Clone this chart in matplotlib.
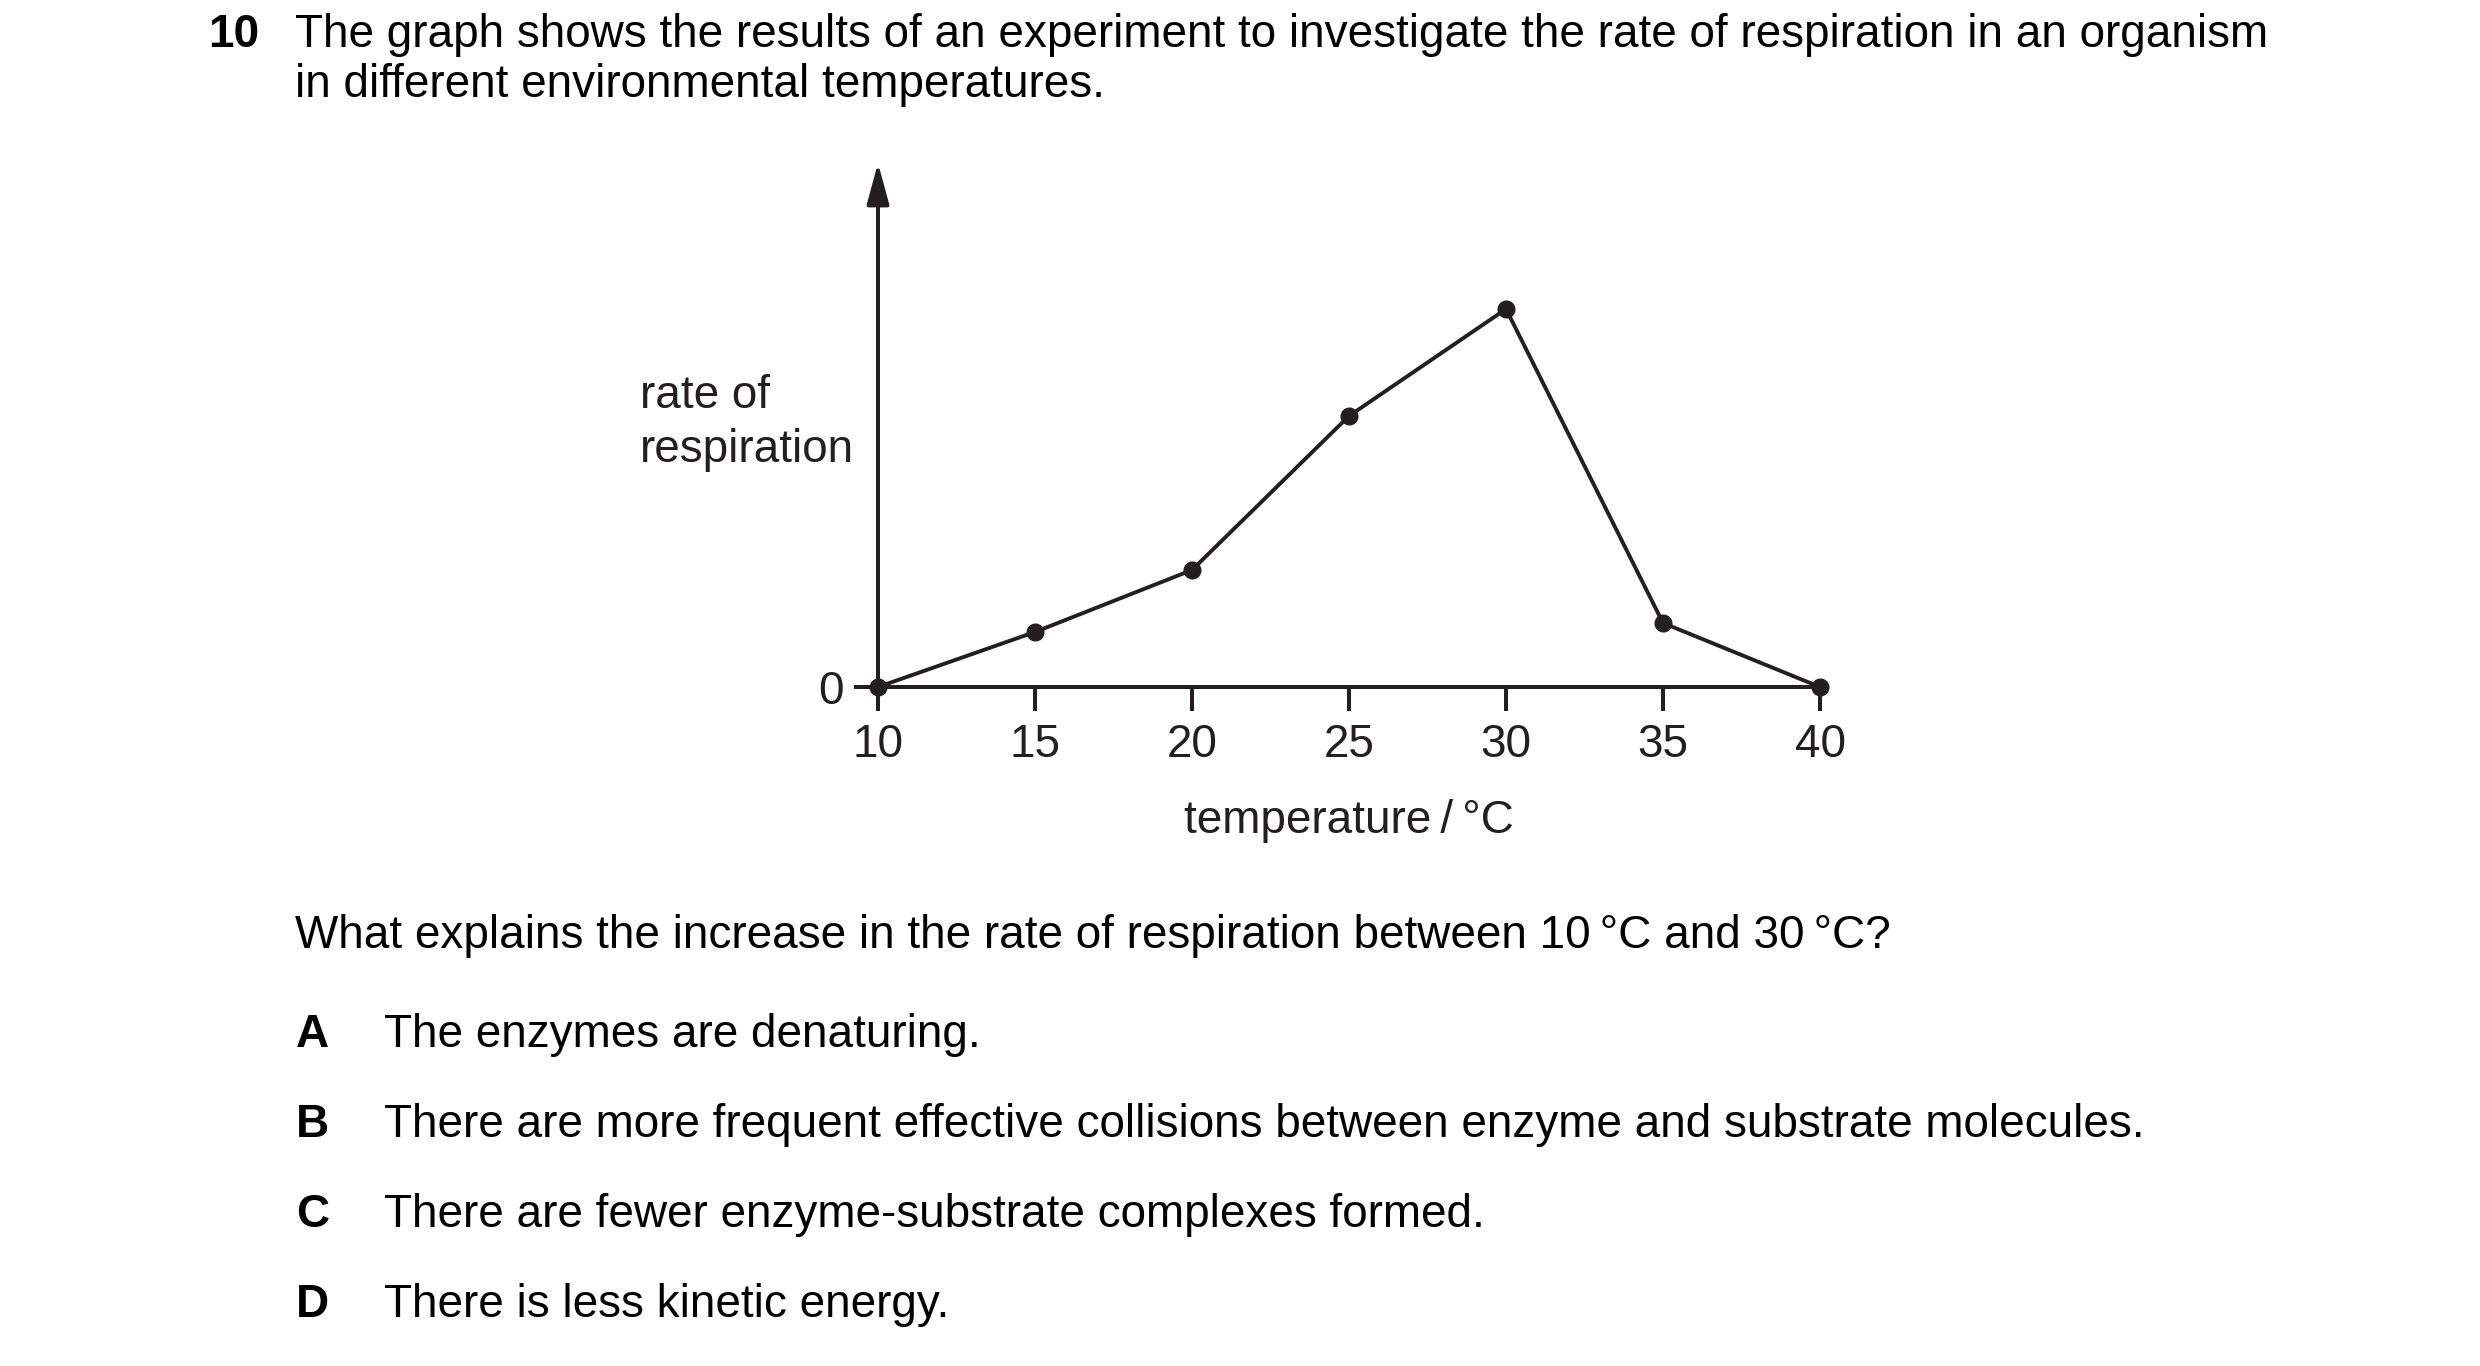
import matplotlib
matplotlib.use("Agg")
import matplotlib.pyplot as plt

plt.rcParams['font.family'] = ['Liberation Sans', 'DejaVu Sans']

# data (rate in arbitrary units)
temperature = [10, 15, 20, 25, 30, 35, 40]
rate = [0, 0.55, 1.17, 2.71, 3.78, 0.64, 0]
x_ticks = [10, 15, 20, 25, 30, 35, 40]
y_top = 5.24

question = "The graph shows the results of an experiment to investigate the rate of respiration in an organism"
question2 = "in different environmental temperatures."
prompt = "What explains the increase in the rate of respiration between 10\u2009°C and 30\u2009°C?"
letters = ["A", "B", "C", "D"]
options = ["The enzymes are denaturing.",
           "There are more frequent effective collisions between enzyme and substrate molecules.",
           "There are fewer enzyme-substrate complexes formed.",
           "There is less kinetic energy."]

W, H = 2480, 1366
fs = 33
ink = '#231f20'

fig = plt.figure(figsize=(W / 100, H / 100), dpi=100)
fig.patch.set_facecolor('white')

def px(x, y):
    return x / W, 1 - y / H

# question text
fig.text(*px(208, 47), "10", fontsize=fs, fontweight='bold', va='baseline', color='black')
fig.text(*px(295, 47), question, fontsize=fs, va='baseline', color='black')
fig.text(*px(295, 97), question2, fontsize=fs, va='baseline', color='black')
fig.text(*px(295, 948), prompt, fontsize=fs, va='baseline', color='black')
for i, (l, t) in enumerate(zip(letters, options)):
    yb = 1047 + i * 90
    fig.text(*px(296, yb), l, fontsize=fs, fontweight='bold', va='baseline', color='black')
    fig.text(*px(384, yb), t, fontsize=fs, va='baseline', color='black')

# graph
ax = fig.add_axes([878 / W, 1 - 687 / H, (1820 - 878) / W, 524 / H])
ax.plot(temperature, rate, color=ink, lw=2.8, marker='o', ms=12, clip_on=False, zorder=5)
ax.set_xlim(10, 40)
ax.set_ylim(0, y_top)
for s in ['top', 'right', 'left']:
    ax.spines[s].set_visible(False)
ax.spines['bottom'].set_linewidth(2.9)
ax.spines['bottom'].set_color(ink)
ax.annotate('', xy=(10, y_top), xytext=(10, 0), xycoords='data',
            arrowprops=dict(arrowstyle='-|>,head_length=25,head_width=6.8',
                            mutation_scale=1, lw=2.9, color=ink,
                            shrinkA=0, shrinkB=0), annotation_clip=False)
ax.set_xticks(x_ticks)
ax.set_xticklabels([str(t) for t in x_ticks])
ax.set_yticks([0])
ax.set_yticklabels(['0'])
ax.tick_params(axis='x', length=17, width=2.9, color=ink, pad=9, labelsize=fs, labelcolor=ink)
ax.tick_params(axis='y', length=17, width=2.9, color=ink, pad=8, labelsize=fs, labelcolor=ink)
for t in ax.get_xticklines() + ax.get_yticklines():
    t.set_clip_on(False)

fig.text(*px(1349, 833), "temperature\u2009/\u2009°C", fontsize=fs, ha='center', va='baseline', color=ink)
fig.text(*px(640, 408), "rate of", fontsize=fs, va='baseline', color=ink)
fig.text(*px(640, 462), "respiration", fontsize=fs, va='baseline', color=ink)

fig.savefig("out.png", dpi=100)
